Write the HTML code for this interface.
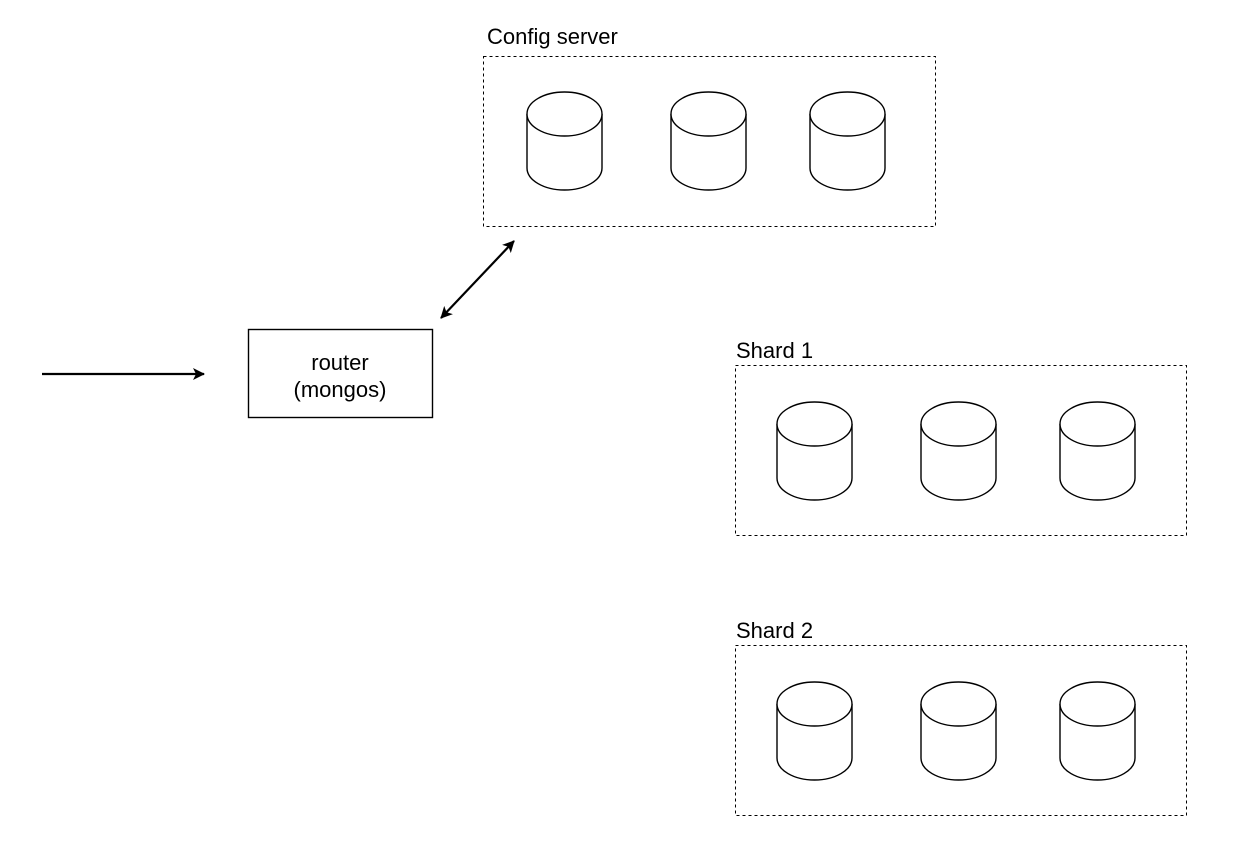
<!DOCTYPE html>
<html><head><style>body{margin:0;background:#fff}</style></head><body>
<svg width="1236" height="846" xmlns="http://www.w3.org/2000/svg" font-family="Liberation Sans, Helvetica, sans-serif">
<defs>
<marker id="a" markerWidth="12" markerHeight="12" refX="11" refY="6" orient="auto" markerUnits="userSpaceOnUse"><path d="M0,0 L12,6 L0,12 L3,6 Z" fill="#000"/></marker>
<marker id="b" markerWidth="12" markerHeight="12" refX="1" refY="6" orient="auto" markerUnits="userSpaceOnUse"><path d="M12,0 L0,6 L12,12 L9,6 Z" fill="#000"/></marker>
<g id="cyl" fill="#fff" stroke="#000" stroke-width="1.4">
<path d="M0,22 L0,76 A37.5,22 0 0 0 75,76 L75,22"/>
<ellipse cx="37.5" cy="22" rx="37.5" ry="22"/>
</g>
</defs>
<g fill="none" stroke="#000" stroke-width="1" stroke-dasharray="3,3">
<rect x="483.5" y="56.5" width="452" height="170"/>
<rect x="735.5" y="365.5" width="451" height="170"/>
<rect x="735.5" y="645.5" width="451" height="170"/>
</g>
<g font-size="22" fill="#000">
<text x="487" y="44">Config server</text>
<text x="736" y="358">Shard 1</text>
<text x="736" y="638">Shard 2</text>
</g>
<use href="#cyl" x="527" y="92"/><use href="#cyl" x="671" y="92"/><use href="#cyl" x="810" y="92"/>
<use href="#cyl" x="777" y="402"/><use href="#cyl" x="921" y="402"/><use href="#cyl" x="1060" y="402"/>
<use href="#cyl" x="777" y="682"/><use href="#cyl" x="921" y="682"/><use href="#cyl" x="1060" y="682"/>
<rect x="248.5" y="329.5" width="184" height="88" fill="#fff" stroke="#000" stroke-width="1.4"/>
<text x="340" y="370" font-size="22" text-anchor="middle">router</text>
<text x="340" y="397" font-size="22" text-anchor="middle">(mongos)</text>
<line x1="42" y1="374" x2="204" y2="374" stroke="#000" stroke-width="2.2" marker-end="url(#a)"/>
<line x1="441" y1="318" x2="514" y2="241" stroke="#000" stroke-width="2.2" marker-end="url(#a)" marker-start="url(#b)"/>
</svg>
</body></html>
